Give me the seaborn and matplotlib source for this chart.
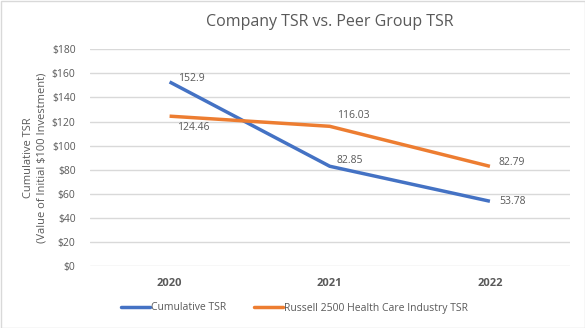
import matplotlib
matplotlib.use("Agg")
import matplotlib.pyplot as plt
import seaborn as sns
import pandas as pd
from matplotlib.patches import Rectangle

years = ["2020", "2021", "2022"]
company_tsr = [152.9, 82.85, 53.78]
peer_tsr = [124.46, 116.03, 82.79]
series_names = ["Cumulative TSR", "Russell 2500 Health Care Industry TSR"]
y_ticks = [0, 20, 40, 60, 80, 100, 120, 140, 160, 180]

sns.set_theme(style="white")
plt.rcParams['font.family'] = ['Open Sans', 'DejaVu Sans']

gray = "#595959"
colors = ["#4472C4", "#ED7D31"]

df = pd.DataFrame({
    "x": list(range(len(years))) * 2,
    "value": company_tsr + peer_tsr,
    "series": [series_names[0]] * 3 + [series_names[1]] * 3,
})

W, H = 585, 328
L, R, T, B = 89.5, 570, 49.3, 266
fig = plt.figure(figsize=(W/100, H/100), dpi=100)
ax = fig.add_axes([L/W, (H-B)/H, (R-L)/W, (B-T)/H])

sns.lineplot(data=df, x="x", y="value", hue="series", palette=colors,
             linewidth=2.5, ax=ax, legend=False, solid_capstyle="butt")

ax.set_xlim(-0.5, 2.5)
ax.set_ylim(0, 180)
ax.set_yticks(y_ticks)
ax.set_yticklabels([f"${v}" for v in y_ticks], color=gray, fontsize=7.5)
ax.set_xticks(range(len(years)))
ax.set_xticklabels(years, color=gray, fontsize=8, fontweight="bold")
ax.tick_params(axis="y", length=0, pad=10)
ax.tick_params(axis="x", length=0, pad=9)
ax.grid(axis="y", color="#D9D9D9", linewidth=1)
ax.set_axisbelow(True)
for s in ax.spines.values():
    s.set_visible(False)
ax.set_xlabel("")
ax.set_ylabel("Cumulative TSR\n(Value of Initial $100 Investment)", color=gray,
              fontsize=8, labelpad=3, linespacing=1.35)

# data labels (offsets in pixels)
offsets_c = [(8, 3), (7, 6), (9, 0)]
offsets_p = [(7, -11), (7, 11), (9, 4)]
for i, v in enumerate(company_tsr):
    dx, dy = offsets_c[i]
    ax.annotate(f"{v:g}", (i, v), xytext=(dx, dy), textcoords="offset pixels",
                ha="left", va="center", color=gray, fontsize=7.5)
for i, v in enumerate(peer_tsr):
    dx, dy = offsets_p[i]
    ax.annotate(f"{v:g}", (i, v), xytext=(dx, dy), textcoords="offset pixels",
                ha="left", va="center", color=gray, fontsize=7.5)

fig.text((L + R) / 2 / W, 1 - 22/H, "Company TSR vs. Peer Group TSR", ha="center", va="center",
         color=gray, fontsize=11.5)

handles = [plt.Line2D([], [], color=c, linewidth=2.5) for c in colors]
fig.legend(handles, series_names, loc="center", bbox_to_anchor=(294.5/W, 1 - 308/H),
           ncol=2, frameon=False, fontsize=7.5, labelcolor=gray, handlelength=2.8,
           handletextpad=0.15, columnspacing=2.6)

fig.patches.append(Rectangle((0.5/W, 0.5/H), 1 - 1/W, 1 - 1/H, transform=fig.transFigure,
                             fill=False, edgecolor="#D9D9D9", linewidth=1))

fig.savefig("out.png", dpi=100)
